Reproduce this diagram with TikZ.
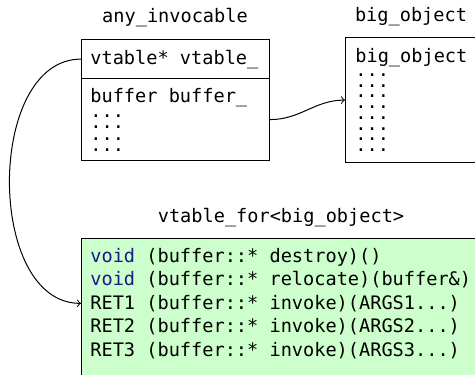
\documentclass[tikz,border=0pt]{standalone}
\usepackage{fontspec}
\setmonofont{DejaVu Sans Mono}
\usepackage{xcolor}
\usepackage{tikz}

\definecolor{tablegreen}{RGB}{204,255,204}
\definecolor{keywordblue}{RGB}{26,26,140}

\begin{document}
\begin{tikzpicture}[x=0.5pt, y=-0.5pt,
  code/.style={font=\ttfamily\fontsize{9.3pt}{11.75pt}\selectfont, inner sep=0pt, anchor=base west},
  dotrow/.style={code, text height=1.2pt, text depth=0pt},
  title/.style={font=\ttfamily\fontsize{9.3pt}{11.75pt}\selectfont, inner sep=0pt, anchor=base},
  cell/.style={draw, line width=0.6pt, inner sep=0pt, anchor=north west},
  link/.style={->, line width=0.5pt}]
\useasboundingbox (0,0) rectangle (475,374);

\node[title] (anytitle) at (175,23) {any\_invocable};
\node[title] (bigtitle) at (411,22) {big\_object};
\node[title] (vtbltitle) at (281,222) {vtable\_for<big\_object>};

\node[cell, minimum width=94pt, minimum height=19.5pt] (vtcell) at (81,39) {};
\node[cell, minimum width=94pt, minimum height=41pt] (bufcell) at (81,78) {};
\node[cell, minimum width=66pt, minimum height=62.5pt] (bigobj) at (345,37) {};
\node[cell, fill=tablegreen, minimum width=200pt, minimum height=75pt] (vtbl) at (81,238) {};

\node[code] (vtfield) at (90,65) {vtable* vtable\_};
\node[code] (buffield) at (90,102) {buffer buffer\_};
\foreach \y [count=\i] in {117,128.5,140,151.5}
  \node[dotrow] (bufdots\i) at (90,\y) {...};

\node[code] (bigfield) at (355,62) {big\_object};
\foreach \i in {0,...,7}
  \node[dotrow] (bigdots\i) at (355,{76.5+10.7*\i}) {...};

\node[code] (destroy) at (90,262) {\textcolor{keywordblue}{void} (buffer::* destroy)()};
\node[code] (relocate) at (90,285.6) {\textcolor{keywordblue}{void} (buffer::* relocate)(buffer\&)};
\node[code] (invoke1) at (90,309.2) {RET1 (buffer::* invoke)(ARGS1...)};
\node[code] (invoke2) at (90,332.8) {RET2 (buffer::* invoke)(ARGS2...)};
\node[code] (invoke3) at (90,356.4) {RET3 (buffer::* invoke)(ARGS3...)};

\draw[link] (vtcell.west) to[out=180, in=180] (vtbl.west |- invoke1);
\draw[link] (bufcell.east) to[out=0, in=180] (bigobj.west);

\end{tikzpicture}
\end{document}
